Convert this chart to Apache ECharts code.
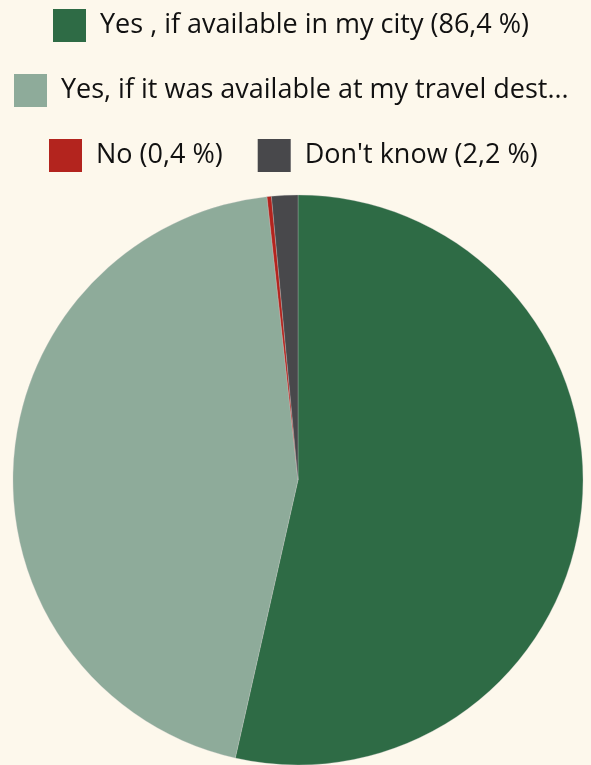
<!DOCTYPE html>
<html><head><meta charset="utf-8">
<script src="https://cdn.jsdelivr.net/npm/echarts@6/dist/echarts.min.js"></script>
<style>html,body{margin:0;padding:0;background:#fdf8ec;}#c{width:591px;height:765px;}</style>
</head><body><div id="c"></div>
<script>
const categories = [
  "Yes , if available in my city (86,4 %)",
  "Yes, if it was available at my travel destination (72,2 %)",
  "No (0,4 %)",
  "Don't know (2,2 %)"
];
const values = [86.4, 72.2, 0.4, 2.4];
const colors = ['#2e6b45', '#8eab9a', '#b3241e', '#48484b'];

const chart = echarts.init(document.getElementById('c'));
const legendBase = {
  orient: 'horizontal',
  itemWidth: 33, itemHeight: 33, itemGap: 26,
  icon: 'rect',
  padding: 0,
  itemStyle: { borderWidth: 0 },
  textStyle: { fontFamily: 'Open Sans', fontSize: 27, color: '#111', lineHeight: 33, padding: [0, 9, 0, 9] },
  selectedMode: false
};
chart.setOption({
  backgroundColor: '#fdf8ec',
  color: colors,
  legend: [
    Object.assign({}, legendBase, { left: 53, top: 9, data: [categories[0]] }),
    Object.assign({}, legendBase, { left: 14, top: 74, data: [{ name: categories[1], textStyle: { width: 511, overflow: 'truncate', ellipsis: '...' } }] }),
    Object.assign({}, legendBase, { left: 49, top: 139, data: [categories[2], categories[3]] })
  ],
  series: [{
    type: 'pie',
    center: [298, 480],
    radius: 285,
    startAngle: 90,
    clockwise: true,
    label: { show: false },
    labelLine: { show: false },
    emphasis: { disabled: true },
    itemStyle: { borderColor: '#c9c9c9', borderWidth: 0.3 },
    data: categories.map((n, i) => ({ name: n, value: values[i] }))
  }]
});
</script></body></html>
